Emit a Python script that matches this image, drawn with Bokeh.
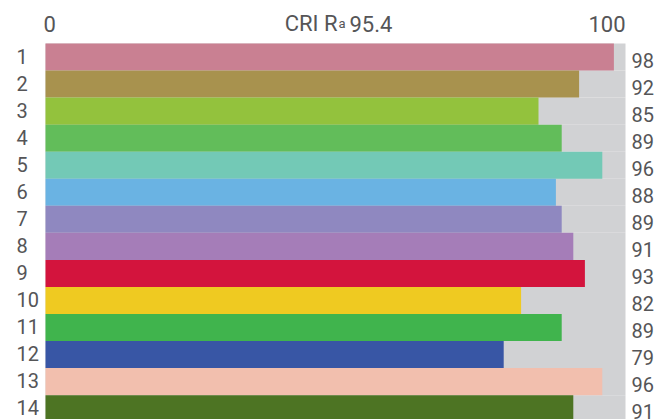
from bokeh.plotting import figure
from bokeh.models import ColumnDataSource, Range1d, LabelSet, Label
from bokeh.core.properties import value
from bokeh.embed import file_html
from bokeh.resources import INLINE

# ---- data ----
rows = list(range(1, 15))
row_labels = [str(r) for r in rows]
values = [98, 92, 85, 89, 96, 88, 89, 91, 93, 82, 89, 79, 96, 91]
colors = ["#c98092", "#a8924e", "#93c23d", "#62bd5a", "#73c9b6", "#6ab3e3", "#8f88c0",
          "#a57db8", "#d3143d", "#efca21", "#40b44d", "#3856a5", "#f2bfae", "#4d7423"]
scale_min, scale_max = 0, 100
title_main, title_sub, title_value = "CRI R", "a", "95.4"

FONT = "Roboto"
TXT = "#555557"
GREY = "#d1d2d4"

W, H = 671, 419
left_px, right_px, top_px = 45, 625, 43
pitch = 27.05
ux = (scale_max - scale_min) / (right_px - left_px)
x_start = scale_min - left_px * ux
x_end = scale_max + (W - right_px) * ux
y_top = 0.5 - top_px / pitch
y_bot = 0.5 + (H - top_px) / pitch

src = ColumnDataSource(dict(
    y=rows, v=values, c=colors, lab=row_labels,
    vlab=[str(v) for v in values],
    x0=[scale_min] * len(rows), x1=[scale_max] * len(rows),
))

p = figure(width=W, height=H, output_backend="svg", toolbar_location=None,
           x_range=Range1d(x_start, x_end), y_range=Range1d(y_bot, y_top),
           min_border=0)
p.axis.visible = False
p.grid.visible = False
p.outline_line_color = None
p.background_fill_color = "white"
p.border_fill_color = "white"

p.hbar(y="y", left="x0", right="x1", height=1.0, fill_color=GREY, line_color=None, source=src)
p.hbar(y="y", left="x0", right="v", height=1.0, fill_color="c", line_color=None, source=src)

p.add_layout(LabelSet(x="x0", y="y", text="lab", source=src, x_offset=-29, y_offset=1,
                      text_align="left", text_baseline="middle", text_font=value(FONT),
                      text_font_size=value("20px"), text_color=value(TXT)))
p.add_layout(LabelSet(x="x1", y="y", text="vlab", source=src, x_offset=6, y_offset=-3,
                      text_align="left", text_baseline="middle", text_font=value(FONT),
                      text_font_size=value("20px"), text_color=value(TXT)))

top_y = 0.5
common = dict(text_baseline="alphabetic", text_font=FONT, text_color=TXT)
p.add_layout(Label(x=scale_min, y=top_y, y_offset=20, x_offset=-2, text=str(scale_min),
                   text_align="left", text_font_size="22px", **common))
p.add_layout(Label(x=scale_max, y=top_y, y_offset=20, text=str(scale_max),
                   text_align="right", text_font_size="22px", **common))
mid = (scale_min + scale_max) / 2
p.add_layout(Label(x=mid, y=top_y, y_offset=20, x_offset=2, text=title_main,
                   text_align="right", text_font_size="22px", **common))
p.add_layout(Label(x=mid, y=top_y, y_offset=20, x_offset=3, text=title_sub,
                   text_align="left", text_font_size="13px", **common))
p.add_layout(Label(x=mid, y=top_y, y_offset=20, x_offset=14, text=title_value,
                   text_align="left", text_font_size="22px", **common))

open("out.html", "w").write(file_html(p, INLINE))
